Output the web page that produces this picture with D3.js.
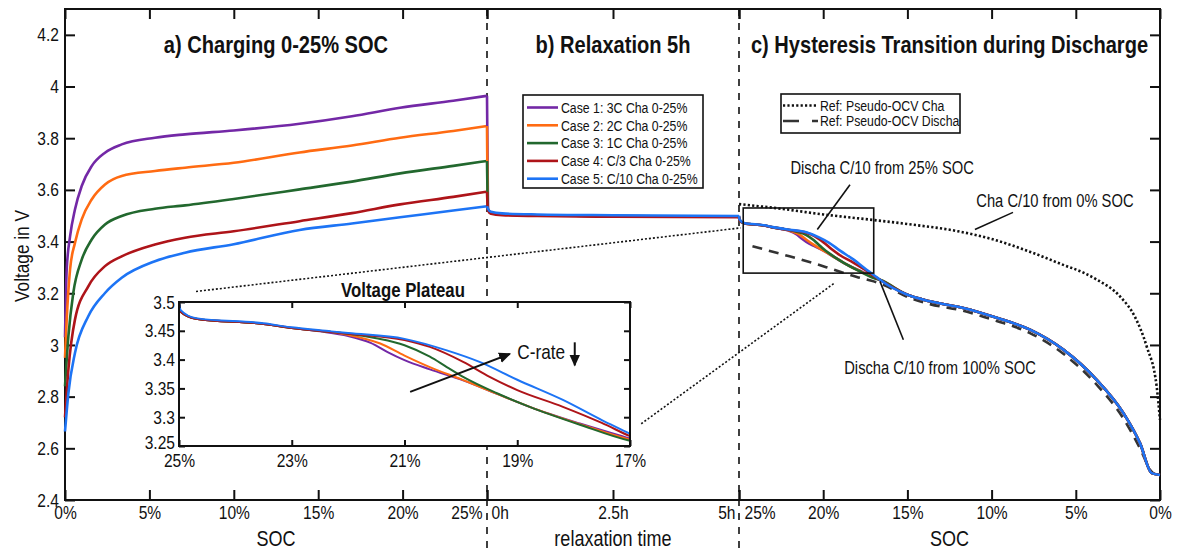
<!DOCTYPE html>
<html>
<head>
<meta charset="utf-8">
<script src="https://cdn.jsdelivr.net/npm/d3@7"></script>
<style>
body { margin: 0; background: #fff; }
svg { display: block; }
text { font-family: "Liberation Sans", Arial, sans-serif; fill: #111; }
</style>
</head>
<body>
<div id="chart"></div>
<script>
// ---- data (SOC in %, voltage in V, time in h) ----
const caseNames = ["Case 1: 3C Cha 0-25%", "Case 2: 2C Cha 0-25%", "Case 3: 1C Cha 0-25%", "Case 4: C/3 Cha 0-25%", "Case 5: C/10 Cha 0-25%"];

// a) charging 0-25% SOC
const chgCase1 = [[0,3.03],[0.1,3.29],[0.3,3.42],[0.59,3.524],[0.99,3.615],[1.58,3.692],[2.37,3.744],[3.36,3.776],[5.33,3.802],[7.11,3.815],[10,3.83],[13.9,3.856],[17,3.885],[19.85,3.918],[23,3.945],[25,3.964]];
const chgCase2 = [[0,2.95],[0.1,3.098],[0.3,3.292],[0.59,3.395],[0.99,3.486],[1.58,3.563],[2.37,3.621],[3.36,3.654],[5.33,3.673],[7.11,3.686],[10,3.705],[13.9,3.745],[17,3.772],[19.85,3.802],[23,3.828],[25,3.847]];
const chgCase3 = [[0,2.84],[0.2,3.033],[0.49,3.201],[0.99,3.33],[1.58,3.408],[2.37,3.466],[3.36,3.499],[5.33,3.527],[7.11,3.54],[10,3.565],[13.9,3.602],[17,3.632],[19.85,3.664],[23,3.693],[25,3.712]];
const chgCase4 = [[0,2.72],[0.2,2.904],[0.59,3.098],[1.38,3.227],[2.37,3.305],[3.36,3.343],[5.33,3.389],[7.11,3.415],[10,3.44],[13.9,3.479],[17,3.51],[19.85,3.544],[23,3.573],[25,3.593]];
const chgCase5 = [[0,2.665],[0.2,2.813],[0.59,2.969],[1.38,3.111],[2.37,3.201],[3.36,3.26],[5.33,3.324],[7.11,3.357],[10,3.39],[13.9,3.445],[17,3.47],[19.85,3.494],[23,3.52],[25,3.537]];

// b) relaxation 5h
const relaxTime = [0, 0.02, 0.08, 0.3, 1, 2.5, 5];
const relaxCase1 = [3.964, 3.524, 3.511, 3.505, 3.502, 3.499, 3.496];
const relaxCase2 = [3.847, 3.524, 3.511, 3.505, 3.502, 3.499, 3.496];
const relaxCase3 = [3.712, 3.523, 3.510, 3.505, 3.502, 3.499, 3.496];
const relaxCase4 = [3.593, 3.520, 3.508, 3.502, 3.499, 3.496, 3.494];
const relaxCase5 = [3.537, 3.527, 3.515, 3.509, 3.505, 3.502, 3.499];

// c) discharge C/10 from 25% SOC (head per case, shared tail)
const disCase1 = [[25,3.497],[24.97,3.483],[24.7,3.471],[23.5,3.462],[23,3.455],[22.5,3.449],[22,3.441],[21.6,3.429],[21.3,3.413],[21,3.399],[20.55,3.383],[19.96,3.364],[19.37,3.341],[18.78,3.318],[17.89,3.289],[17,3.263]];
const disCase2 = [[25,3.497],[24.97,3.483],[24.7,3.471],[23.5,3.462],[23,3.455],[22.3,3.448],[22,3.443],[21.43,3.428],[21,3.407],[20.55,3.387],[20,3.366],[19.37,3.341],[18.78,3.318],[17.89,3.288],[17,3.261]];
const disCase3 = [[25,3.497],[24.97,3.483],[24.7,3.471],[23.5,3.462],[23,3.455],[22.3,3.448],[22,3.445],[21.5,3.437],[21,3.425],[20.55,3.405],[20.25,3.387],[19.96,3.37],[19.37,3.342],[18.78,3.318],[17.89,3.287],[17,3.259]];
const disCase4 = [[25,3.497],[24.97,3.483],[24.7,3.471],[23.5,3.462],[23,3.455],[22.3,3.448],[22,3.445],[21,3.434],[20.55,3.422],[19.96,3.396],[19.49,3.37],[19,3.347],[18.19,3.318],[17.5,3.29],[17,3.267]];
const disCase5 = [[25,3.5],[24.97,3.486],[24.7,3.472],[23.5,3.463],[23,3.456],[22.3,3.449],[22,3.446],[21,3.436],[20.25,3.416],[19.67,3.396],[19,3.365],[18.19,3.33],[17.5,3.295],[17,3.271]];
const disTail = [[16.63,3.252],[15.04,3.195],[13.66,3.169],[11.68,3.143],[9.7,3.105],[7.72,3.059],[5.74,2.982],[3.76,2.865],[2.18,2.737],[1.19,2.62],[0.49,2.504],[0,2.497]];

// reference pseudo-OCV curves
const refCha = [[25,3.545],[22.5,3.527],[20,3.505],[17.5,3.487],[15,3.468],[12,3.44],[10,3.41],[7.7,3.36],[5.75,3.31],[4.55,3.28],[3.76,3.253],[2.38,3.188],[1.5,3.11],[0.79,2.994],[0.2,2.84],[0,2.71]];
const refDischa = [[24.2,3.382],[22,3.343],[20.6,3.317],[19.4,3.292],[18,3.263],[17,3.246],[16.4,3.232],[15,3.186],[13.66,3.158],[11.68,3.132],[9.7,3.093],[7.72,3.046],[5.74,2.966],[3.76,2.846],[2.18,2.716],[1.19,2.6],[0.5,2.51],[0.3,2.5]];

// ticks
const vTicks = [2.4, 2.6, 2.8, 3.0, 3.2, 3.4, 3.6, 3.8, 4.0, 4.2];
const socTicksA = [0, 5, 10, 15, 20, 25];
const timeTicks = [0, 2.5, 5];
const socTicksC = [25, 20, 15, 10, 5, 0];
const insetVTicks = [3.25, 3.3, 3.35, 3.4, 3.45, 3.5];
const insetSocTicks = [25, 23, 21, 19, 17];

// ---- drawing ----
const W = 1178, H = 550;
const NX = 0.82; // horizontal squeeze for a narrow face
const colors = ["#7328a6", "#ff6b12", "#22682e", "#ae1419", "#1d74f5"];
const chg = [chgCase1, chgCase2, chgCase3, chgCase4, chgCase5];
const relax = [relaxCase1, relaxCase2, relaxCase3, relaxCase4, relaxCase5];
const dis = [disCase1, disCase2, disCase3, disCase4, disCase5].map(d => d.concat(disTail));

const svg = d3.select("#chart").append("svg").attr("width", W).attr("height", H);

const xa = d3.scaleLinear().domain([0, 25]).range([65, 487]);
const xb = d3.scaleLinear().domain([0, 5]).range([487, 739]);
const xc = d3.scaleLinear().domain([25, 0]).range([739, 1160]);
const y = d3.scaleLinear().domain([2.4, 4.3]).range([500, 9]);

// text helper: squeezed text at (x, y)
function ntext(parent, x, yy, txt, size, anchor, bold) {
    return parent.append("text").attr("x", x / NX).attr("y", yy)
        .attr("transform", "scale(" + NX + ",1)")
        .attr("text-anchor", anchor || "start")
        .attr("font-size", size).attr("font-weight", bold ? "bold" : null).text(txt);
}

function styleAxis(g) {
    g.select(".domain").remove();
    g.selectAll(".tick line").attr("stroke", "#111").attr("stroke-width", 2);
    g.selectAll(".tick text").attr("font-size", "19px")
        .attr("font-family", "'Liberation Sans',Arial,sans-serif").attr("fill", "#111")
        .attr("transform", "scale(" + NX + ",1)");
}

// bottom axes
var gA = svg.append("g").attr("transform", "translate(0,500)")
    .call(d3.axisBottom(xa).tickValues(socTicksA).tickSize(-10).tickPadding(6).tickFormat(d => d + "%"))
    .call(styleAxis);
gA.selectAll(".tick text").filter(d => d === 25).attr("text-anchor", "end").attr("x", -5 / NX);

var gB = svg.append("g").attr("transform", "translate(0,500)")
    .call(d3.axisBottom(xb).tickValues(timeTicks).tickSize(-10).tickPadding(6).tickFormat(d => d + "h"))
    .call(styleAxis);
gB.selectAll(".tick text").filter(d => d === 0).attr("text-anchor", "start").attr("x", 4 / NX);
gB.selectAll(".tick text").filter(d => d === 5).attr("text-anchor", "end").attr("x", -4 / NX);

var gC = svg.append("g").attr("transform", "translate(0,500)")
    .call(d3.axisBottom(xc).tickValues(socTicksC).tickSize(-10).tickPadding(6).tickFormat(d => d + "%"))
    .call(styleAxis);
gC.selectAll(".tick text").filter(d => d === 25).attr("text-anchor", "start").attr("x", 5 / NX);

// top ticks
[[xa, socTicksA], [xb, timeTicks], [xc, socTicksC]].forEach(function (p) {
    svg.append("g").attr("transform", "translate(0,9)")
        .call(d3.axisTop(p[0]).tickValues(p[1]).tickSize(-10).tickFormat(""))
        .call(styleAxis);
});

// y axes
var gY = svg.append("g").attr("transform", "translate(65,0)")
    .call(d3.axisLeft(y).tickValues(vTicks).tickSize(-10).tickFormat(d3.format("~g")))
    .call(styleAxis);
gY.selectAll(".tick text").attr("x", -6 / NX);
svg.append("g").attr("transform", "translate(1160,0)")
    .call(d3.axisRight(y).tickValues(vTicks).tickSize(-10).tickFormat(""))
    .call(styleAxis);

// frame
svg.append("rect").attr("x", 65).attr("y", 9).attr("width", 1095).attr("height", 491)
    .attr("fill", "none").attr("stroke", "#111").attr("stroke-width", 2);

// section separators
[0, 5].forEach(function (t) {
    svg.append("line").attr("x1", xb(t)).attr("x2", xb(t)).attr("y1", 9).attr("y2", H)
        .attr("stroke", "#111").attr("stroke-width", 1.6).attr("stroke-dasharray", "7,7");
});

// reference curves
const lineC = d3.line().x(d => xc(d[0])).y(d => y(d[1])).curve(d3.curveMonotoneX);
svg.append("path").attr("d", lineC(refCha)).attr("fill", "none").attr("stroke", "#111")
    .attr("stroke-width", 2.6).attr("stroke-dasharray", "2.2,2.2");
svg.append("path").attr("d", lineC(refDischa)).attr("fill", "none").attr("stroke", "#333")
    .attr("stroke-width", 2.6).attr("stroke-dasharray", "10,7");

// data curves
const lineA = d3.line().x(d => xa(d[0])).y(d => y(d[1])).curve(d3.curveMonotoneX);
const lineB = d3.line().x((d, i) => xb(relaxTime[i])).y(d => y(d)).curve(d3.curveMonotoneX);
chg.forEach(function (d, i) {
    svg.append("path").attr("d", lineA(d)).attr("fill", "none").attr("stroke", colors[i]).attr("stroke-width", 2.6);
});
relax.forEach(function (d, i) {
    svg.append("path").attr("d", lineB(d)).attr("fill", "none").attr("stroke", colors[i]).attr("stroke-width", 2.6);
});
dis.forEach(function (d, i) {
    svg.append("path").attr("d", lineC(d)).attr("fill", "none").attr("stroke", colors[i]).attr("stroke-width", 2.6);
});

// zoom rectangle in section c
svg.append("rect").attr("x", xc(24.75)).attr("y", y(3.53))
    .attr("width", xc(17) - xc(24.75)).attr("height", y(3.278) - y(3.53))
    .attr("fill", "none").attr("stroke", "#111").attr("stroke-width", 1.6);

// dotted connectors
function dotted(x1, y1, x2, y2) {
    svg.append("line").attr("x1", x1).attr("y1", y1).attr("x2", x2).attr("y2", y2)
        .attr("stroke", "#111").attr("stroke-width", 1.6).attr("stroke-dasharray", "2,2");
}
dotted(xa(7.76), y(3.207), xc(24.9), y(3.453));
dotted(xb(3.06), y(2.695), xc(19.3), y(3.241));

// ---- inset ----
const xi = d3.scaleLinear().domain([25, 17]).range([179, 630]);
const yi = d3.scaleLinear().domain([3.25, 3.5]).range([446, 302]);
svg.append("rect").attr("x", 179).attr("y", 302).attr("width", 451).attr("height", 144).attr("fill", "#fff");
svg.append("clipPath").attr("id", "insetClip").append("rect")
    .attr("x", 179).attr("y", 302).attr("width", 451).attr("height", 144);
const lineI = d3.line().x(d => xi(d[0])).y(d => yi(d[1])).curve(d3.curveMonotoneX);
var gI = svg.append("g").attr("clip-path", "url(#insetClip)");
dis.forEach(function (d, i) {
    gI.append("path").attr("d", lineI(d)).attr("fill", "none").attr("stroke", colors[i]).attr("stroke-width", 2);
});
svg.append("g").attr("transform", "translate(0,446)")
    .call(d3.axisBottom(xi).tickValues(insetSocTicks).tickSize(-6).tickPadding(8).tickFormat(d => d + "%"))
    .call(styleAxis);
svg.append("g").attr("transform", "translate(0,302)")
    .call(d3.axisTop(xi).tickValues(insetSocTicks).tickSize(-6).tickFormat(""))
    .call(styleAxis);
var gIY = svg.append("g").attr("transform", "translate(179,0)")
    .call(d3.axisLeft(yi).tickValues(insetVTicks).tickSize(-6).tickFormat(d3.format("~g")))
    .call(styleAxis);
gIY.selectAll(".tick text").attr("x", -4 / NX);
gIY.selectAll(".tick text").filter(d => d === 3.25).attr("y", -4);
svg.append("g").attr("transform", "translate(630,0)")
    .call(d3.axisRight(yi).tickValues(insetVTicks).tickSize(-6).tickFormat(""))
    .call(styleAxis);
svg.append("rect").attr("x", 179).attr("y", 302).attr("width", 451).attr("height", 144)
    .attr("fill", "none").attr("stroke", "#111").attr("stroke-width", 2);
ntext(svg, 403, 297, "Voltage Plateau", "20.5px", "middle", true);

// C-rate arrow
svg.append("defs").append("marker").attr("id", "arr").attr("viewBox", "0 0 10 10")
    .attr("refX", 9).attr("refY", 5).attr("markerWidth", 6).attr("markerHeight", 6)
    .attr("orient", "auto")
    .append("path").attr("d", "M0,0.5 L10,5 L0,9.5 Z").attr("fill", "#111");
svg.append("line").attr("x1", xi(20.9)).attr("y1", yi(3.344)).attr("x2", xi(19.13)).attr("y2", yi(3.41))
    .attr("stroke", "#111").attr("stroke-width", 2).attr("marker-end", "url(#arr)");
ntext(svg, xi(19.0), yi(3.413), "C-rate", "21px").attr("dy", "0.35em");
svg.append("line").attr("x1", xi(17.98)).attr("y1", yi(3.43)).attr("x2", xi(17.98)).attr("y2", yi(3.39))
    .attr("stroke", "#111").attr("stroke-width", 2).attr("marker-end", "url(#arr)");

// ---- annotations in section c ----
function note(txt, s, v, ls1, lv1, ls2, lv2) {
    ntext(svg, xc(s), y(v), txt, "18px", "middle").attr("dy", "0.35em");
    svg.append("line").attr("x1", xc(ls1)).attr("y1", y(lv1)).attr("x2", xc(ls2)).attr("y2", y(lv2))
        .attr("stroke", "#111").attr("stroke-width", 1.6);
}
note("Discha C/10 from 25% SOC", 16.5, 3.687, 18.41, 3.62, 20.35, 3.447);
note("Cha C/10 from 0% SOC", 6.24, 3.557, 8.73, 3.513, 10.99, 3.447);
note("Discha C/10 from 100% SOC", 13.06, 2.912, 16.63, 3.246, 15.24, 3.02);

// ---- titles ----
ntext(svg, xa(12.5), 53, "a) Charging 0-25% SOC", "24.5px", "middle", true);
ntext(svg, xb(2.5), 53, "b) Relaxation 5h", "24.5px", "middle", true);
ntext(svg, xc(12.5), 53, "c) Hysteresis Transition during Discharge", "24.5px", "middle", true);

// axis titles
ntext(svg, xa(12.5), 546, "SOC", "22px", "middle");
ntext(svg, xb(2.5), 546, "relaxation time", "22px", "middle");
ntext(svg, xc(12.5), 546, "SOC", "22px", "middle");
svg.append("text").attr("transform", "translate(22,256) rotate(-90) scale(" + NX + ",1)")
    .attr("text-anchor", "middle").attr("dy", "0.35em").attr("font-size", "21px").text("Voltage in V");

// ---- legends ----
var lg = svg.append("g").attr("transform", "translate(523,95)");
lg.append("rect").attr("width", 180).attr("height", 93).attr("fill", "#fff").attr("stroke", "#111").attr("stroke-width", 1.6);
caseNames.forEach(function (name, i) {
    var yy = 12.5 + i * 17.8;
    lg.append("line").attr("x1", 4).attr("x2", 35).attr("y1", yy).attr("y2", yy)
        .attr("stroke", colors[i]).attr("stroke-width", 2.6);
    ntext(lg, 38, yy, name, "15px").attr("dy", "0.35em");
});

var lg2 = svg.append("g").attr("transform", "translate(781,94)");
lg2.append("rect").attr("width", 179).attr("height", 39).attr("fill", "#fff").attr("stroke", "#111").attr("stroke-width", 1.6);
lg2.append("line").attr("x1", 2).attr("x2", 36).attr("y1", 11.5).attr("y2", 11.5)
    .attr("stroke", "#111").attr("stroke-width", 2.6).attr("stroke-dasharray", "2.2,2.2");
lg2.append("line").attr("x1", 2).attr("x2", 37).attr("y1", 27).attr("y2", 27)
    .attr("stroke", "#333").attr("stroke-width", 2.6).attr("stroke-dasharray", "16,13");
ntext(lg2, 39, 11.5, "Ref: Pseudo-OCV Cha", "15px").attr("dy", "0.35em");
ntext(lg2, 39, 27, "Ref: Pseudo-OCV Discha", "15px").attr("dy", "0.35em");
</script>
</body>
</html>
